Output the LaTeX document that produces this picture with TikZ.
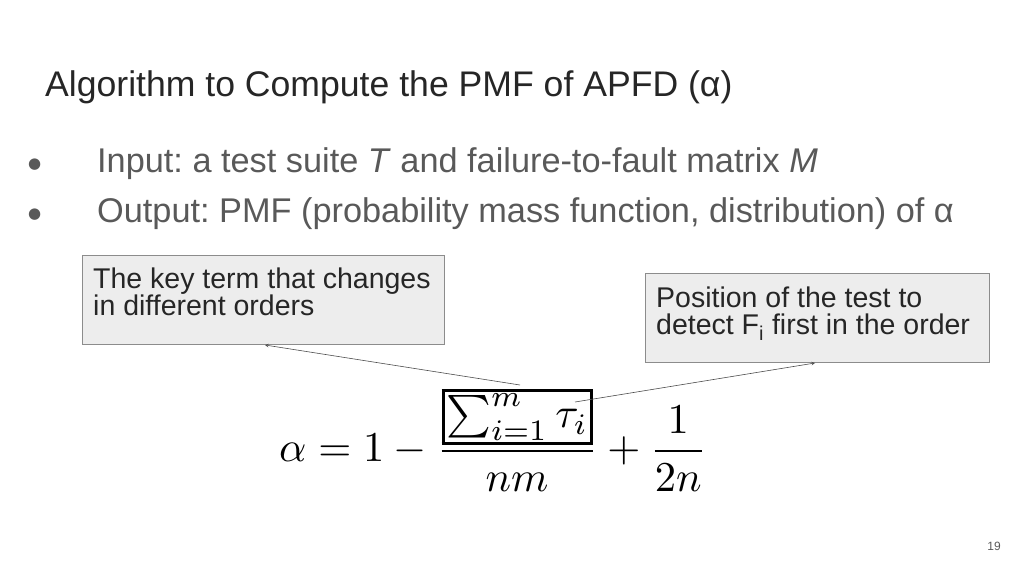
\documentclass[tikz,border=0pt]{standalone}
\usepackage{fontspec}
\setmainfont{Liberation Sans}
\newfontfamily\dv{DejaVu Sans}
\frenchspacing
\begin{document}
\begin{tikzpicture}[x=1pt,y=-1pt,
  note/.style={draw=black!45,fill=black!7,line width=0.8pt},
  notetext/.style={anchor=north west,inner sep=0pt,align=left,font=\fontsize{28.5}{27}\selectfont,text=black!85},
  bul/.style={anchor=base west,inner sep=0pt,font=\fontsize{34.3}{36}\selectfont,text=black!65},
  arr/.style={->,>=stealth,draw=black!70,line width=0.6pt}]
\useasboundingbox (0,0) rectangle (1024,576);
\node[anchor=base west,inner sep=0pt,font=\fontsize{35.6}{38}\selectfont,text=black!85] (title) at (45,96) {Algorithm to Compute the PMF of APFD (α)};
\node[bul] (b1d) at (28,168) {{\dv\fontsize{15}{17}\selectfont ●}};
\node[bul] (b1) at (97,172) {Input: a test suite \textit{T} and failure-to-fault matrix \textit{M}};
\node[bul] (b2d) at (28,218) {{\dv\fontsize{15}{17}\selectfont ●}};
\node[bul] (b2) at (97,222) {Output: PMF (probability mass function, distribution) of α};
\draw[note] (82,255) rectangle (444,344);
\node[notetext] (t1) at (93,268) {The key term that changes\\in different orders};
\coordinate (k) at (265,345);
\draw[note] (645,273) rectangle (989,362);
\node[notetext] (t2) at (656,287) {Position of the test to\\detect F\textsubscript{i} first in the order};
\coordinate (p) at (815,363);
\node[inner sep=0pt] (f) at (493,440)
 {\scalebox{4.25}{\setlength{\fboxrule}{0.7pt}\setlength{\fboxsep}{0.4pt}$\displaystyle \alpha = 1 - \frac{\fbox{$\sum_{i=1}^{m}\tau_i$}}{nm} + \frac{1}{2n}$}};
\coordinate (s1) at (520,385);
\coordinate (s2) at (575,402);
\draw[arr] (s1) -- (k);
\draw[arr] (s2) -- (p);
\node[anchor=base east,inner sep=0pt,font=\fontsize{12}{14}\selectfont,text=black!65] (pg) at (1001,550) {19};
\end{tikzpicture}
\end{document}
